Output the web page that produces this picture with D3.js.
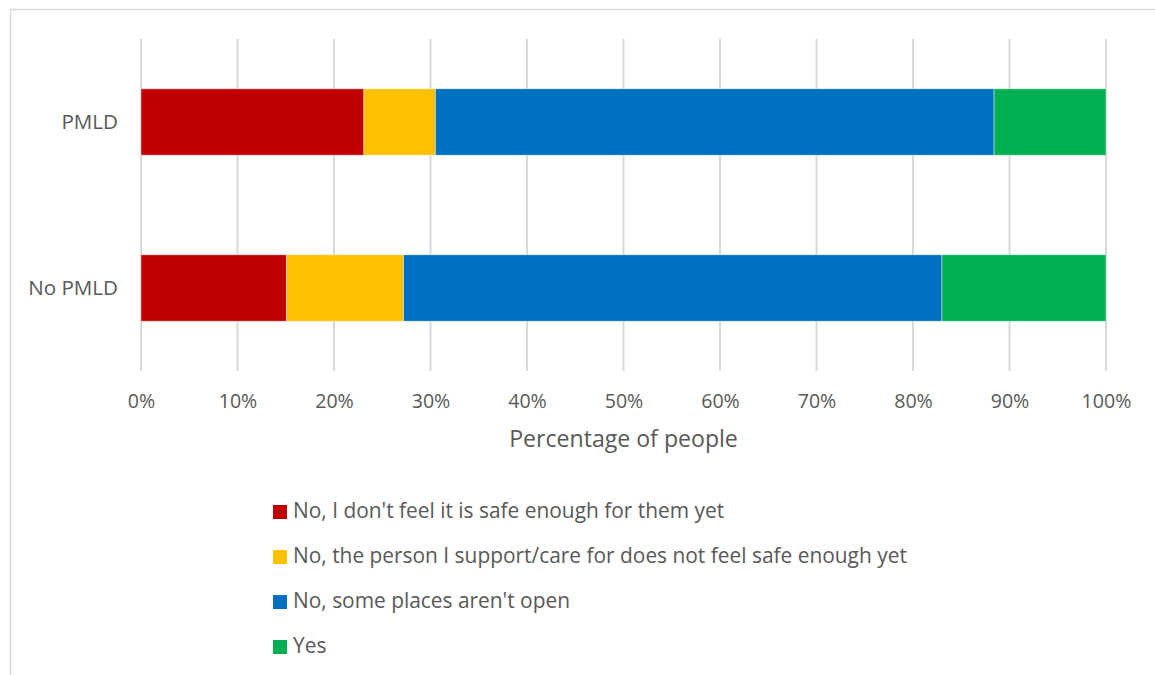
<!DOCTYPE html>
<html><head><meta charset="utf-8">
<script src="https://cdn.jsdelivr.net/npm/d3@7"></script>
<style>body{margin:0;background:#fff}svg{display:block}text{font-family:"Open Sans",sans-serif;fill:#595959}</style>
</head><body>
<svg id="c" width="1155" height="675"></svg>
<script>
const categories = ["PMLD", "No PMLD"];
const seriesNames = ["No, I don't feel it is safe enough for them yet",
  "No, the person I support/care for does not feel safe enough yet",
  "No, some places aren't open",
  "Yes"];
const seriesColors = ["#C00000", "#FFC000", "#0070C0", "#00B050"];
const notSafeForThem = [23.1, 15.1];
const personNotSafe = [7.4, 12.1];
const placesNotOpen = [57.9, 55.8];
const yes = [11.6, 17.0];
const tickValues = [0,10,20,30,40,50,60,70,80,90,100];
const axisTitle = "Percentage of people";

const series = [notSafeForThem, personNotSafe, placesNotOpen, yes];
const svg = d3.select("#c");
svg.append("rect").attr("x",10.5).attr("y",9.5).attr("width",1160).attr("height",700)
  .attr("fill","none").attr("stroke","#d9d9d9").attr("stroke-width",1.5);

const x = d3.scaleLinear().domain([0,100]).range([141,1106]);
const y = d3.scaleBand().domain(categories).range([39,371]).paddingInner(0.6).paddingOuter(0.3);

svg.append("g").selectAll("line").data(tickValues).join("line")
  .attr("x1",d=>x(d)).attr("x2",d=>x(d)).attr("y1",39).attr("y2",371)
  .attr("stroke","#d9d9d9").attr("stroke-width",2);

const rows = categories.map((c,i)=>{const o={cat:c}; series.forEach((s,j)=>o["s"+j]=s[i]); return o;});
const stack = d3.stack().keys(series.map((s,j)=>"s"+j))(rows);
svg.append("g").selectAll("g").data(stack).join("g")
  .attr("fill",(d,i)=>seriesColors[i])
  .selectAll("rect").data(d=>d).join("rect")
  .attr("x",d=>x(d[0])).attr("width",d=>x(d[1])-x(d[0]))
  .attr("y",d=>y(d.data.cat)).attr("height",y.bandwidth())
  .attr("stroke","rgba(255,255,255,0.6)").attr("stroke-width",0.75);

const xAxis = d3.axisBottom(x).tickValues(tickValues).tickFormat(d=>d+"%").tickSize(0).tickPadding(0);
const gx = svg.append("g").attr("transform","translate(0,403)").call(xAxis);
gx.select(".domain").remove();
gx.selectAll("text").attr("font-size",19.6).attr("fill","#595959").attr("dy",null)
  .attr("y",0).attr("dominant-baseline","middle").style("font-family","'Open Sans'");

const yAxis = d3.axisLeft(y).tickSize(0).tickPadding(0);
const gy = svg.append("g").attr("transform","translate(118,1)").call(yAxis);
gy.select(".domain").remove();
gy.selectAll("text").attr("font-size",20.6).attr("fill","#595959").attr("dy",null)
  .attr("dominant-baseline","middle").style("font-family","'Open Sans'");

svg.append("text").attr("x",623.5).attr("y",441).attr("text-anchor","middle")
  .attr("dominant-baseline","middle").attr("font-size",23.1).text(axisTitle);

const lg = svg.append("g").selectAll("g").data(seriesNames).join("g")
  .attr("transform",(d,i)=>`translate(273,${512+i*45})`);
lg.append("rect").attr("x",0).attr("y",-7).attr("width",14).attr("height",14).attr("fill",(d,i)=>seriesColors[i]);
lg.append("text").attr("x",20).attr("y",0).attr("dominant-baseline","middle").attr("font-size",20.9).text(d=>d);
</script>
</body></html>
